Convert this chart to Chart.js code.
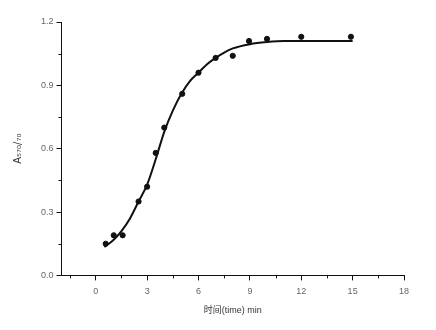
<!DOCTYPE html>
<html>
<head>
<meta charset="utf-8">
<script src="https://cdn.jsdelivr.net/npm/chart.js@4"></script>
<style>
  html, body { margin: 0; padding: 0; background: #ffffff; }
  #wrap { width: 436px; height: 330px; position: relative; }
</style>
</head>
<body>
<div id="wrap"><canvas id="chart"></canvas></div>
<script>
/* measured points */
const timeMin = [0.58, 1.05, 1.57, 2.5, 3.0, 3.5, 4.0, 5.05, 6.0, 7.0, 8.0, 8.95, 10.0, 12.0, 14.9];
const absorb  = [0.15, 0.19, 0.19, 0.35, 0.42, 0.58, 0.70, 0.86, 0.96, 1.03, 1.04, 1.11, 1.12, 1.13, 1.13];

/* fitted curve */
const fitX = [0.5, 1, 1.5, 2, 2.5, 3, 3.5, 4, 4.5, 5, 5.5, 6, 6.5, 7, 7.5, 8, 9, 10, 11, 12, 15];
const fitY = [0.135, 0.165, 0.21, 0.27, 0.35, 0.43, 0.55, 0.68, 0.78, 0.86, 0.92, 0.96, 1.0, 1.03, 1.055, 1.075, 1.095, 1.105, 1.11, 1.11, 1.11];

const xMajor = [0, 3, 6, 9, 12, 15, 18];
const xMinor = [-1.5, 1.5, 4.5, 7.5, 10.5, 13.5, 16.5];
const yMajor = [0, 0.3, 0.6, 0.9, 1.2];
const yMinor = [0.15, 0.45, 0.75, 1.05];

const ink = '#111111';
const tickGrey = '#666666';

/* short minor tick marks */
const minorTicks = {
    id: 'minorTicks',
    afterDraw(chart) {
        const c = chart.ctx;
        const xs = chart.scales.x, ys = chart.scales.y;
        const a = chart.chartArea;
        c.save();
        c.strokeStyle = ink;
        c.lineWidth = 1;
        c.beginPath();
        xMinor.forEach(v => {
            const px = Math.round(xs.getPixelForValue(v)) + 0.5;
            c.moveTo(px, a.bottom);
            c.lineTo(px, a.bottom + 3);
        });
        yMinor.forEach(v => {
            const py = Math.round(ys.getPixelForValue(v)) + 0.5;
            c.moveTo(a.left, py);
            c.lineTo(a.left - 3, py);
        });
        c.stroke();
        c.restore();
    }
};

new Chart(document.getElementById('chart'), {
    type: 'scatter',
    data: {
        datasets: [
            {
                data: fitX.map((x, i) => ({ x: x, y: fitY[i] })),
                showLine: true,
                borderColor: ink,
                borderWidth: 2,
                pointRadius: 0,
                cubicInterpolationMode: 'monotone'
            },
            {
                data: timeMin.map((x, i) => ({ x: x, y: absorb[i] })),
                showLine: false,
                pointRadius: 2.6,
                pointBackgroundColor: ink,
                pointBorderColor: ink
            }
        ]
    },
    plugins: [minorTicks],
    options: {
        responsive: true,
        maintainAspectRatio: false,
        animation: false,
        layout: { padding: { left: 12, right: 32, top: 22, bottom: 14 } },
        plugins: {
            legend: { display: false },
            tooltip: { enabled: false }
        },
        scales: {
            x: {
                type: 'linear',
                min: -2,
                max: 18,
                afterBuildTicks: axis => { axis.ticks = xMajor.map(v => ({ value: v })); },
                grid: {
                    display: true,
                    drawOnChartArea: false,
                    drawTicks: true,
                    tickLength: 5,
                    color: ink
                },
                border: { display: true, color: ink, width: 1 },
                ticks: {
                    color: tickGrey,
                    padding: 6,
                    maxRotation: 0,
                    font: { family: 'Liberation Sans', size: 9 },
                    callback: v => String(v)
                },
                title: {
                    display: true,
                    text: '时间(time) min',
                    color: '#333333',
                    padding: { top: 2, bottom: 0 },
                    font: { family: 'Liberation Sans, Noto Sans CJK SC', size: 9 }
                }
            },
            y: {
                type: 'linear',
                min: 0,
                max: 1.2,
                afterBuildTicks: axis => { axis.ticks = yMajor.map(v => ({ value: v })); },
                grid: {
                    display: true,
                    drawOnChartArea: false,
                    drawTicks: true,
                    tickLength: 5,
                    color: ink
                },
                border: { display: true, color: ink, width: 1 },
                ticks: {
                    color: tickGrey,
                    padding: 3,
                    font: { family: 'Liberation Sans', size: 9 },
                    callback: v => v.toFixed(1)
                },
                title: {
                    display: true,
                    text: 'A₅₇₀/₇₀',
                    color: '#333333',
                    padding: { top: 0, bottom: 14 },
                    font: { family: 'DejaVu Sans', size: 10 }
                }
            }
        }
    }
});
</script>
</body>
</html>
